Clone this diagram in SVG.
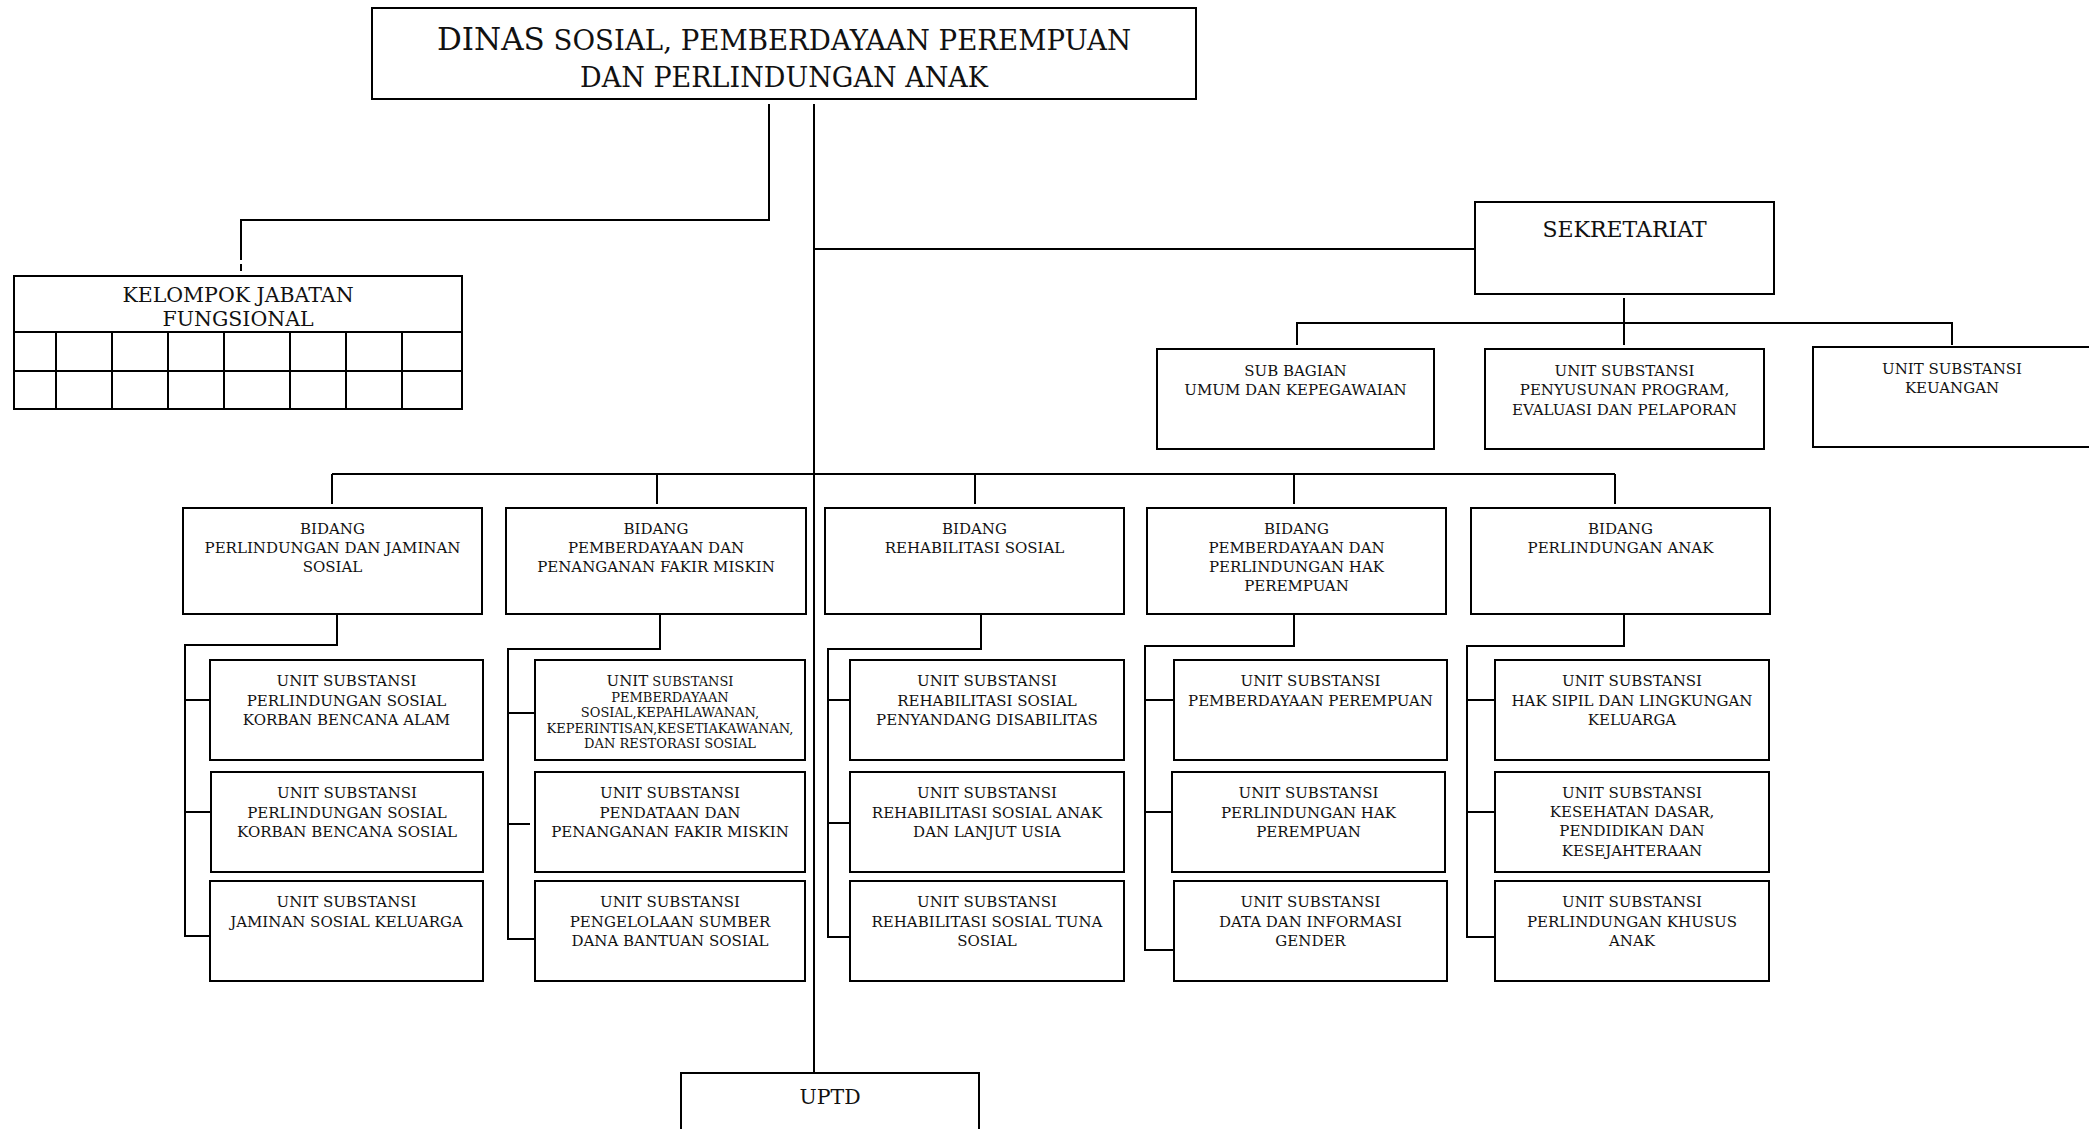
<svg xmlns="http://www.w3.org/2000/svg" width="2089" height="1129" viewBox="0 0 2089 1129">
<style>
.box{fill:#fff;stroke:#000;stroke-width:2}
.ln{fill:none;stroke:#000;stroke-width:2}
.gl{fill:none;stroke:#000;stroke-width:2}
text{font-family:"DejaVu Serif","Liberation Serif",serif;fill:#111;text-anchor:middle}
.t15{font-size:15px}
.t13{font-size:13px}
.t20{font-size:20.5px}
.t22{font-size:22px}
.t27{font-size:27px}
</style>
<rect width="2089" height="1129" fill="#fff"/>

<g id="connectors">
  <polyline class="ln" points="769,104 769,220 241,220 241,260"/>
  <line class="ln" x1="241" y1="264" x2="241" y2="271"/>
  <line class="ln" x1="814" y1="104" x2="814" y2="1073"/>
  <line class="ln" x1="814" y1="249" x2="1475" y2="249"/>
  <line class="ln" x1="1624" y1="298" x2="1624" y2="345"/>
  <polyline class="ln" points="1297,345 1297,323 1952,323 1952,345"/>
  <line class="ln" x1="332" y1="474" x2="1615" y2="474"/>
  <line class="ln" x1="332" y1="474" x2="332" y2="504"/>
  <line class="ln" x1="657" y1="474" x2="657" y2="504"/>
  <line class="ln" x1="975" y1="474" x2="975" y2="504"/>
  <line class="ln" x1="1294" y1="474" x2="1294" y2="504"/>
  <line class="ln" x1="1615" y1="474" x2="1615" y2="504"/>
  <polyline class="ln" points="337,614 337,645 185,645 185,936 210,936"/>
  <line class="ln" x1="185" y1="700" x2="210" y2="700"/>
  <line class="ln" x1="185" y1="812" x2="211" y2="812"/>
  <polyline class="ln" points="660,614 660,649 508,649 508,939 535,939"/>
  <line class="ln" x1="508" y1="713" x2="535" y2="713"/>
  <line class="ln" x1="508" y1="824" x2="530" y2="824"/>
  <polyline class="ln" points="981,614 981,649 828,649 828,937 850,937"/>
  <line class="ln" x1="828" y1="700" x2="850" y2="700"/>
  <line class="ln" x1="828" y1="823" x2="850" y2="823"/>
  <polyline class="ln" points="1294,614 1294,646 1145,646 1145,950 1174,950"/>
  <line class="ln" x1="1145" y1="700" x2="1174" y2="700"/>
  <line class="ln" x1="1145" y1="812" x2="1172" y2="812"/>
  <polyline class="ln" points="1624,614 1624,646 1467,646 1467,937 1495,937"/>
  <line class="ln" x1="1467" y1="700" x2="1495" y2="700"/>
  <line class="ln" x1="1467" y1="812" x2="1495" y2="812"/>
</g>

<g id="dinas">
  <rect class="box" x="372" y="8" width="824" height="91"/>
  <text x="784" y="50"><tspan style="font-size:31px">DINAS</tspan><tspan style="font-size:27.6px"> SOSIAL, PEMBERDAYAAN PEREMPUAN</tspan></text>
  <text class="t27" x="784" y="87">DAN PERLINDUNGAN ANAK</text>
</g>

<g id="kelompok">
  <rect class="box" x="14" y="276" width="448" height="133"/>
  <line class="gl" x1="14" y1="332" x2="462" y2="332"/>
  <line class="gl" x1="14" y1="371" x2="462" y2="371"/>
  <line class="gl" x1="56" y1="332" x2="56" y2="409"/>
  <line class="gl" x1="112" y1="332" x2="112" y2="409"/>
  <line class="gl" x1="168" y1="332" x2="168" y2="409"/>
  <line class="gl" x1="224" y1="332" x2="224" y2="409"/>
  <line class="gl" x1="290" y1="332" x2="290" y2="409"/>
  <line class="gl" x1="346" y1="332" x2="346" y2="409"/>
  <line class="gl" x1="402" y1="332" x2="402" y2="409"/>
  <text class="t20" x="238" y="302">KELOMPOK JABATAN</text>
  <text class="t20" x="238" y="326">FUNGSIONAL</text>
</g>

<g id="sekretariat">
  <rect class="box" x="1475" y="202" width="299" height="92"/>
  <text class="t22" x="1624.5" y="237">SEKRETARIAT</text>
</g>

<g id="subbag-umum">
  <rect class="box" x="1157" y="349" width="277" height="100"/>
  <text class="t15" x="1295.5" y="375.5">SUB BAGIAN</text>
  <text class="t15" x="1295.5" y="395">UMUM DAN KEPEGAWAIAN</text>
</g>

<g id="unit-program">
  <rect class="box" x="1485" y="349" width="279" height="100"/>
  <text class="t15" x="1624.5" y="375.5">UNIT SUBSTANSI</text>
  <text class="t15" x="1624.5" y="395">PENYUSUNAN PROGRAM,</text>
  <text class="t15" x="1624.5" y="414.5">EVALUASI DAN PELAPORAN</text>
</g>

<g id="unit-keuangan">
  <rect class="box" x="1813" y="347" width="290" height="100"/>
  <text class="t15" x="1952" y="373.5">UNIT SUBSTANSI</text>
  <text class="t15" x="1952" y="393">KEUANGAN</text>
</g>

<g id="bidang-1">
  <rect class="box" x="183" y="508" width="299" height="106"/>
  <text class="t15" x="332.5" y="534">BIDANG</text>
  <text class="t15" x="332.5" y="553">PERLINDUNGAN DAN JAMINAN</text>
  <text class="t15" x="332.5" y="572">SOSIAL</text>
</g>
<g id="bidang-2">
  <rect class="box" x="506" y="508" width="300" height="106"/>
  <text class="t15" x="656" y="534">BIDANG</text>
  <text class="t15" x="656" y="553">PEMBERDAYAAN DAN</text>
  <text class="t15" x="656" y="572">PENANGANAN FAKIR MISKIN</text>
</g>
<g id="bidang-3">
  <rect class="box" x="825" y="508" width="299" height="106"/>
  <text class="t15" x="974.5" y="534">BIDANG</text>
  <text class="t15" x="974.5" y="553">REHABILITASI SOSIAL</text>
</g>
<g id="bidang-4">
  <rect class="box" x="1147" y="508" width="299" height="106"/>
  <text class="t15" x="1296.5" y="534">BIDANG</text>
  <text class="t15" x="1296.5" y="553">PEMBERDAYAAN DAN</text>
  <text class="t15" x="1296.5" y="572">PERLINDUNGAN HAK</text>
  <text class="t15" x="1296.5" y="591">PEREMPUAN</text>
</g>
<g id="bidang-5">
  <rect class="box" x="1471" y="508" width="299" height="106"/>
  <text class="t15" x="1620.5" y="534">BIDANG</text>
  <text class="t15" x="1620.5" y="553">PERLINDUNGAN ANAK</text>
</g>

<g id="unit-1-1">
  <rect class="box" x="210" y="660" width="273" height="100"/>
  <text class="t15" x="346.5" y="686">UNIT SUBSTANSI</text>
  <text class="t15" x="346.5" y="705.5">PERLINDUNGAN SOSIAL</text>
  <text class="t15" x="346.5" y="725">KORBAN BENCANA ALAM</text>
</g>
<g id="unit-1-2">
  <rect class="box" x="211" y="772" width="272" height="100"/>
  <text class="t15" x="347" y="798">UNIT SUBSTANSI</text>
  <text class="t15" x="347" y="817.5">PERLINDUNGAN SOSIAL</text>
  <text class="t15" x="347" y="837">KORBAN BENCANA SOSIAL</text>
</g>
<g id="unit-1-3">
  <rect class="box" x="210" y="881" width="273" height="100"/>
  <text class="t15" x="346.5" y="907">UNIT SUBSTANSI</text>
  <text class="t15" x="346.5" y="926.5">JAMINAN SOSIAL KELUARGA</text>
</g>

<g id="unit-2-1">
  <rect class="box" x="535" y="660" width="270" height="100"/>
  <text x="670" y="686"><tspan class="t15">UNIT</tspan><tspan class="t13"> SUBSTANSI</tspan></text>
  <text class="t13" x="670" y="701.5">PEMBERDAYAAN</text>
  <text class="t13" x="670" y="717">SOSIAL,KEPAHLAWANAN,</text>
  <text class="t13" x="670" y="732.5">KEPERINTISAN,KESETIAKAWANAN,</text>
  <text class="t13" x="670" y="748">DAN RESTORASI SOSIAL</text>
</g>
<g id="unit-2-2">
  <rect class="box" x="535" y="772" width="270" height="100"/>
  <text class="t15" x="670" y="798">UNIT SUBSTANSI</text>
  <text class="t15" x="670" y="817.5">PENDATAAN DAN</text>
  <text class="t15" x="670" y="837">PENANGANAN FAKIR MISKIN</text>
</g>
<g id="unit-2-3">
  <rect class="box" x="535" y="881" width="270" height="100"/>
  <text class="t15" x="670" y="907">UNIT SUBSTANSI</text>
  <text class="t15" x="670" y="926.5">PENGELOLAAN SUMBER</text>
  <text class="t15" x="670" y="946">DANA BANTUAN SOSIAL</text>
</g>

<g id="unit-3-1">
  <rect class="box" x="850" y="660" width="274" height="100"/>
  <text class="t15" x="987" y="686">UNIT SUBSTANSI</text>
  <text class="t15" x="987" y="705.5">REHABILITASI SOSIAL</text>
  <text class="t15" x="987" y="725">PENYANDANG DISABILITAS</text>
</g>
<g id="unit-3-2">
  <rect class="box" x="850" y="772" width="274" height="100"/>
  <text class="t15" x="987" y="798">UNIT SUBSTANSI</text>
  <text class="t15" x="987" y="817.5">REHABILITASI SOSIAL ANAK</text>
  <text class="t15" x="987" y="837">DAN LANJUT USIA</text>
</g>
<g id="unit-3-3">
  <rect class="box" x="850" y="881" width="274" height="100"/>
  <text class="t15" x="987" y="907">UNIT SUBSTANSI</text>
  <text class="t15" x="987" y="926.5">REHABILITASI SOSIAL TUNA</text>
  <text class="t15" x="987" y="946">SOSIAL</text>
</g>

<g id="unit-4-1">
  <rect class="box" x="1174" y="660" width="273" height="100"/>
  <text class="t15" x="1310.5" y="686">UNIT SUBSTANSI</text>
  <text class="t15" x="1310.5" y="705.5">PEMBERDAYAAN PEREMPUAN</text>
</g>
<g id="unit-4-2">
  <rect class="box" x="1172" y="772" width="273" height="100"/>
  <text class="t15" x="1308.5" y="798">UNIT SUBSTANSI</text>
  <text class="t15" x="1308.5" y="817.5">PERLINDUNGAN HAK</text>
  <text class="t15" x="1308.5" y="837">PEREMPUAN</text>
</g>
<g id="unit-4-3">
  <rect class="box" x="1174" y="881" width="273" height="100"/>
  <text class="t15" x="1310.5" y="907">UNIT SUBSTANSI</text>
  <text class="t15" x="1310.5" y="926.5">DATA DAN INFORMASI</text>
  <text class="t15" x="1310.5" y="946">GENDER</text>
</g>

<g id="unit-5-1">
  <rect class="box" x="1495" y="660" width="274" height="100"/>
  <text class="t15" x="1632" y="686">UNIT SUBSTANSI</text>
  <text class="t15" x="1632" y="705.5">HAK SIPIL DAN LINGKUNGAN</text>
  <text class="t15" x="1632" y="725">KELUARGA</text>
</g>
<g id="unit-5-2">
  <rect class="box" x="1495" y="772" width="274" height="100"/>
  <text class="t15" x="1632" y="797.5">UNIT SUBSTANSI</text>
  <text class="t15" x="1632" y="816.5">KESEHATAN DASAR,</text>
  <text class="t15" x="1632" y="835.5">PENDIDIKAN DAN</text>
  <text class="t15" x="1632" y="856">KESEJAHTERAAN</text>
</g>
<g id="unit-5-3">
  <rect class="box" x="1495" y="881" width="274" height="100"/>
  <text class="t15" x="1632" y="907">UNIT SUBSTANSI</text>
  <text class="t15" x="1632" y="926.5">PERLINDUNGAN KHUSUS</text>
  <text class="t15" x="1632" y="946">ANAK</text>
</g>

<g id="uptd">
  <rect class="box" x="681" y="1073" width="298" height="70"/>
  <text class="t20" x="830" y="1104">UPTD</text>
</g>
</svg>
